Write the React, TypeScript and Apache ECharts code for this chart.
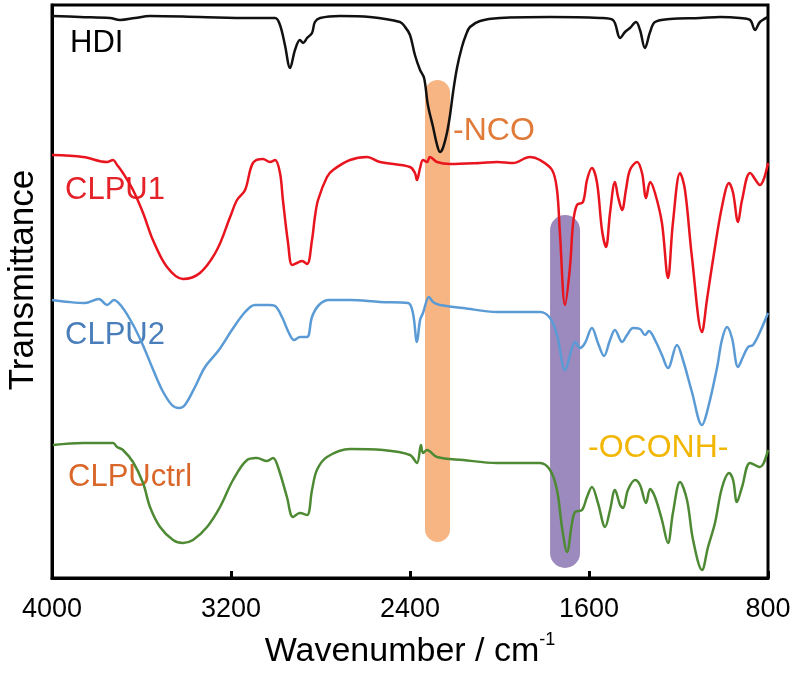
import React, { useEffect, useRef } from "react";
import * as echarts from "echarts";

// [wavenumber (cm-1), transmittance (offset, arbitrary units)]
const hdi: [number, number][] = [
  [4000,562],[3875,561],[3741,560],[3696,558],[3629,560],[3562,562],[3339,561],[3115,560],[3003,560],[2981,553],[2959,533],[2936,510],[2914,528],[2892,538],[2878,535],[2860,540],[2838,545],[2825,556],[2802,560],[2713,562],[2579,561],[2445,556],[2422,551],[2400,543],[2378,523],[2355,508],[2337,500],[2320,473],[2297,451],[2279,433],[2266,426],[2253,430],[2235,445],[2221,463],[2208,485],[2190,510],[2168,531],[2150,543],[2132,551],[2087,557],[1998,560],[1774,561],[1551,560],[1493,558],[1461,540],[1439,546],[1417,550],[1390,556],[1372,548],[1350,530],[1327,546],[1305,556],[1238,559],[1104,560],[1014,561],[925,560],[880,558],[858,548],[836,556],[800,561],
];

const clpu1: [number, number][] = [
  [4000,423],[3861,421],[3754,416],[3727,418],[3709,413],[3683,405],[3638,388],[3593,365],[3549,338],[3486,311],[3415,299],[3339,305],[3263,328],[3204,361],[3173,378],[3137,388],[3102,415],[3057,419],[3026,416],[3003,418],[2981,405],[2968,378],[2945,335],[2927,313],[2905,315],[2883,317],[2860,314],[2838,338],[2825,361],[2811,378],[2771,401],[2744,408],[2668,418],[2592,421],[2534,416],[2400,411],[2378,405],[2369,398],[2355,410],[2342,418],[2324,416],[2311,421],[2279,416],[2221,414],[2087,415],[2011,416],[1940,415],[1864,421],[1819,418],[1765,408],[1743,388],[1730,345],[1707,273],[1685,311],[1671,355],[1654,373],[1627,376],[1609,398],[1587,410],[1564,395],[1542,348],[1524,331],[1506,365],[1484,396],[1470,381],[1452,368],[1435,388],[1417,408],[1385,416],[1363,405],[1345,380],[1327,396],[1305,385],[1274,355],[1247,300],[1225,355],[1193,405],[1171,388],[1140,321],[1095,246],[1073,278],[1046,318],[1006,371],[974,395],[956,385],[934,356],[916,378],[880,405],[836,393],[800,415],
];

const clpu2: [number, number][] = [
  [4000,278],[3924,276],[3853,275],[3790,279],[3754,273],[3723,278],[3687,271],[3642,255],[3598,235],[3553,211],[3508,188],[3464,173],[3432,170],[3406,173],[3361,191],[3316,211],[3254,228],[3196,248],[3137,266],[3093,273],[3030,273],[3003,272],[2972,261],[2941,245],[2918,238],[2892,241],[2860,241],[2838,261],[2807,273],[2762,278],[2668,278],[2534,276],[2409,275],[2387,265],[2369,236],[2355,258],[2342,265],[2315,281],[2297,276],[2266,273],[2163,270],[2011,266],[1895,266],[1819,266],[1774,260],[1743,243],[1707,208],[1676,230],[1662,236],[1640,230],[1618,235],[1587,250],[1560,235],[1533,222],[1506,238],[1484,248],[1452,236],[1430,243],[1403,250],[1372,249],[1350,243],[1332,247],[1305,238],[1274,223],[1247,210],[1207,233],[1180,218],[1140,186],[1095,153],[1068,170],[1028,210],[1006,238],[983,251],[961,240],[934,211],[912,221],[889,231],[867,233],[836,246],[800,265],
];

const clpuCtrl: [number, number][] = [
  [3996,133],[3861,135],[3785,135],[3727,135],[3709,131],[3683,128],[3638,116],[3593,95],[3562,71],[3517,51],[3459,38],[3415,35],[3370,38],[3307,51],[3249,71],[3191,98],[3128,118],[3084,120],[3039,117],[3012,120],[2990,111],[2950,81],[2923,61],[2892,65],[2860,63],[2838,88],[2816,108],[2771,121],[2668,129],[2521,128],[2400,123],[2369,115],[2351,133],[2342,125],[2324,128],[2279,121],[2163,118],[2011,115],[1864,115],[1819,115],[1774,108],[1743,88],[1721,51],[1698,26],[1676,55],[1662,66],[1631,68],[1609,81],[1587,91],[1560,75],[1528,51],[1506,68],[1484,88],[1461,73],[1448,70],[1426,88],[1394,98],[1372,93],[1345,75],[1327,89],[1305,81],[1274,58],[1247,35],[1225,65],[1193,96],[1162,78],[1135,38],[1095,8],[1068,31],[1037,55],[1006,90],[974,105],[956,98],[939,76],[916,91],[880,115],[836,111],[800,128],
];

// highlight bands: [center wavenumber, half width, top value, bottom value]
const ncoBand = [2277, 56, 498, 36];
const oconhBand = [1707, 67, 363, 10];

const xTicks = { min: 800, max: 4000, interval: 800 };

const FONT = "'Liberation Sans', Arial, sans-serif";

export default function App() {
  const ref = useRef<HTMLDivElement>(null);
  useEffect(() => {
    if (!ref.current) return;
    const chart = echarts.init(ref.current, null, { renderer: "svg" });
    const lineSeries = (name: string, data: [number, number][], color: string) => ({
      name,
      type: "line",
      data,
      showSymbol: false,
      smooth: 0.35,
      z: 3,
      lineStyle: { color, width: 2.5 },
    });
    chart.setOption({
      animation: false,
      grid: {
        left: 52, right: 32, top: 5, bottom: 104,
        show: true, borderColor: "#000", borderWidth: 3,
        containLabel: false, outerBoundsMode: "none",
      },
      xAxis: {
        type: "value",
        inverse: true,
        min: xTicks.min,
        max: xTicks.max,
        interval: xTicks.interval,
        axisLine: { show: true, lineStyle: { color: "#000", width: 3 } },
        axisTick: { show: true, inside: true, length: 7, lineStyle: { color: "#000", width: 3 } },
        splitLine: { show: false },
        axisLabel: { color: "#000", fontSize: 27, margin: 16, fontFamily: FONT, formatter: (v: number) => String(v) },
        name: "Wavenumber / cm{sup|-1}",
        nameLocation: "middle",
        nameGap: 52,
        nameTextStyle: {
          color: "#000",
          fontSize: 34,
          fontFamily: FONT,
          lineHeight: 38,
          rich: { sup: { fontSize: 18, fontFamily: FONT, color: "#000", verticalAlign: "top", lineHeight: 38 } },
        },
      },
      yAxis: {
        type: "value",
        min: 0,
        max: 573,
        axisLine: { show: true, lineStyle: { color: "#000", width: 3 } },
        axisTick: { show: false },
        axisLabel: { show: false },
        splitLine: { show: false },
      },
      series: [
        {
          type: "custom",
          z: 1,
          silent: true,
          data: [
            [...ncoBand, 0],
            [...oconhBand, 1],
          ],
          renderItem: (params: any, api: any) => {
            const c = api.value(0), hw = api.value(1), top = api.value(2), bottom = api.value(3), kind = api.value(4);
            const p1 = api.coord([c + hw, top]);
            const p2 = api.coord([c - hw, bottom]);
            const x = Math.min(p1[0], p2[0]);
            const w = Math.abs(p2[0] - p1[0]);
            const y = Math.min(p1[1], p2[1]);
            const h = Math.abs(p2[1] - p1[1]);
            return {
              type: "rect",
              shape: { x, y, width: w, height: h, r: w / 2 },
              style: { fill: kind === 0 ? "rgba(244,150,80,0.7)" : "rgba(128,104,172,0.78)" },
            };
          },
        },
        lineSeries("HDI", hdi, "#111111"),
        lineSeries("CLPU1", clpu1, "#E8141E"),
        lineSeries("CLPU2", clpu2, "#5B9BD5"),
        lineSeries("CLPUctrl", clpuCtrl, "#4E8A34"),
      ],
      graphic: [
        { type: "text", x: 20, y: 280, rotation: Math.PI / 2, style: { text: "Transmittance", fill: "#000", fontSize: 35, fontFamily: FONT, align: "center", verticalAlign: "middle" } },
        { type: "text", x: 70, y: 41, style: { text: "HDI", fill: "#000", fontSize: 31, fontFamily: FONT, verticalAlign: "middle" } },
        { type: "text", x: 65, y: 188, style: { text: "CLPU1", fill: "#E5222A", fontSize: 31, fontFamily: FONT, verticalAlign: "middle" } },
        { type: "text", x: 65, y: 333, style: { text: "CLPU2", fill: "#4A7EBB", fontSize: 31, fontFamily: FONT, verticalAlign: "middle" } },
        { type: "text", x: 68, y: 475, style: { text: "CLPUctrl", fill: "#D9672A", fontSize: 31, fontFamily: FONT, verticalAlign: "middle" } },
        { type: "text", x: 453, y: 129, style: { text: "-NCO", fill: "#E07B39", fontSize: 32, fontFamily: FONT, verticalAlign: "middle" } },
        { type: "text", x: 588, y: 446, style: { text: "-OCONH-", fill: "#F2B705", fontSize: 32, fontFamily: FONT, verticalAlign: "middle" } },
      ],
    });
    return () => chart.dispose();
  }, []);
  return <div ref={ref} style={{ position: "fixed", left: 0, top: 0, width: 800, height: 682 }} />;
}
